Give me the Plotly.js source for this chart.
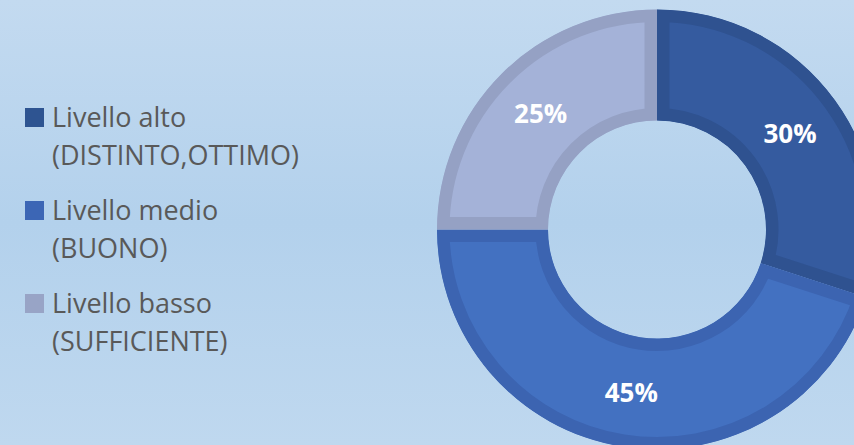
<!DOCTYPE html>
<html>
<head>
<meta charset="utf-8">
<script src="https://cdn.plot.ly/plotly-3.0.1.min.js"></script>
<style>
  html, body { margin: 0; padding: 0; width: 854px; height: 445px; overflow: hidden; }
  body { background: linear-gradient(to bottom, #C3DAF0 0%, #B3D1EC 50%, #BFD8EF 100%); }
  #chart { position: absolute; left: 0; top: 0; width: 900px; height: 460px; }
  #chart path.surface { stroke-linejoin: miter !important; }
</style>
</head>
<body>
<div id="chart"></div>
<script>
// ---- data ----
const categories = ['Livello alto', 'Livello medio', 'Livello basso'];
const subLabels = ['(DISTINTO,OTTIMO)', '(BUONO)', '(SUFFICIENTE)'];
const values = [30, 45, 25];

// ---- styles ----
const fillColors = ['#355B9F', '#4371C1', '#A4B2D8'];
const borderColors = ['#2F5290', '#3C64B1', '#95A1C4'];
const legendColors = ['#2E5491', '#3C66B5', '#98A4C6'];

const W = 900, H = 460;
const px = x => x / W;
const py = y => 1 - y / H;

// pie geometry (pixels)
const cx = 657, cy = 229.5, r = 220;

const trace = {
  type: 'pie',
  labels: categories,
  values: values,
  sort: false,
  direction: 'clockwise',
  rotation: 0,
  hole: 109 / 220,
  textinfo: 'percent',
  textposition: 'inside',
  insidetextorientation: 'horizontal',
  insidetextfont: { family: 'Open Sans, sans-serif', size: 26, color: '#FFFFFF', weight: 'bold' },
  marker: { colors: fillColors, line: { color: borderColors, width: 25 } },
  domain: { x: [px(cx - r), Math.min(1, px(cx + r))], y: [(H - cy - r) / H, (H - cy + r) / H] },
  showlegend: false,
  hoverinfo: 'label+percent'
};

const annotations = [];
const shapes = [];
const fontLeg = { family: 'Open Sans, sans-serif', size: 27, color: '#595959' };
categories.forEach((c, i) => {
  const base1 = 126 + 93 * i, base2 = 164 + 93 * i;
  annotations.push({ xref: 'paper', yref: 'paper', x: px(50), y: py(base1 - 9.5), xanchor: 'left', yanchor: 'middle',
    text: c, showarrow: false, font: fontLeg });
  annotations.push({ xref: 'paper', yref: 'paper', x: px(50), y: py(base2 - 9.5), xanchor: 'left', yanchor: 'middle',
    text: subLabels[i], showarrow: false, font: fontLeg });
  const top = 108 + 93 * i;
  shapes.push({ type: 'rect', xref: 'paper', yref: 'paper', x0: px(25), x1: px(44), y0: py(top), y1: py(top + 19),
    fillcolor: legendColors[i], line: { width: 0 } });
});

const layout = {
  width: W, height: H,
  margin: { l: 0, r: 0, t: 0, b: 0 },
  paper_bgcolor: 'rgba(0,0,0,0)',
  plot_bgcolor: 'rgba(0,0,0,0)',
  annotations: annotations,
  shapes: shapes
};

Plotly.newPlot('chart', [trace], layout, { displayModeBar: false, staticPlot: true }).then(gd => {
  // clip each slice's border to its own shape so the border sits inside the slice
  const ns = 'http://www.w3.org/2000/svg';
  const svg = gd.querySelector('svg.main-svg');
  let defs = svg.querySelector('defs');
  if (!defs) { defs = document.createElementNS(ns, 'defs'); svg.insertBefore(defs, svg.firstChild); }
  gd.querySelectorAll('path.surface').forEach((p, i) => {
    const cp = document.createElementNS(ns, 'clipPath');
    cp.setAttribute('id', 'slice-inner-clip-' + i);
    const cpath = document.createElementNS(ns, 'path');
    cpath.setAttribute('d', p.getAttribute('d'));
    cp.appendChild(cpath);
    defs.appendChild(cp);
    p.setAttribute('clip-path', 'url(#slice-inner-clip-' + i + ')');
  });
});
</script>
</body>
</html>
